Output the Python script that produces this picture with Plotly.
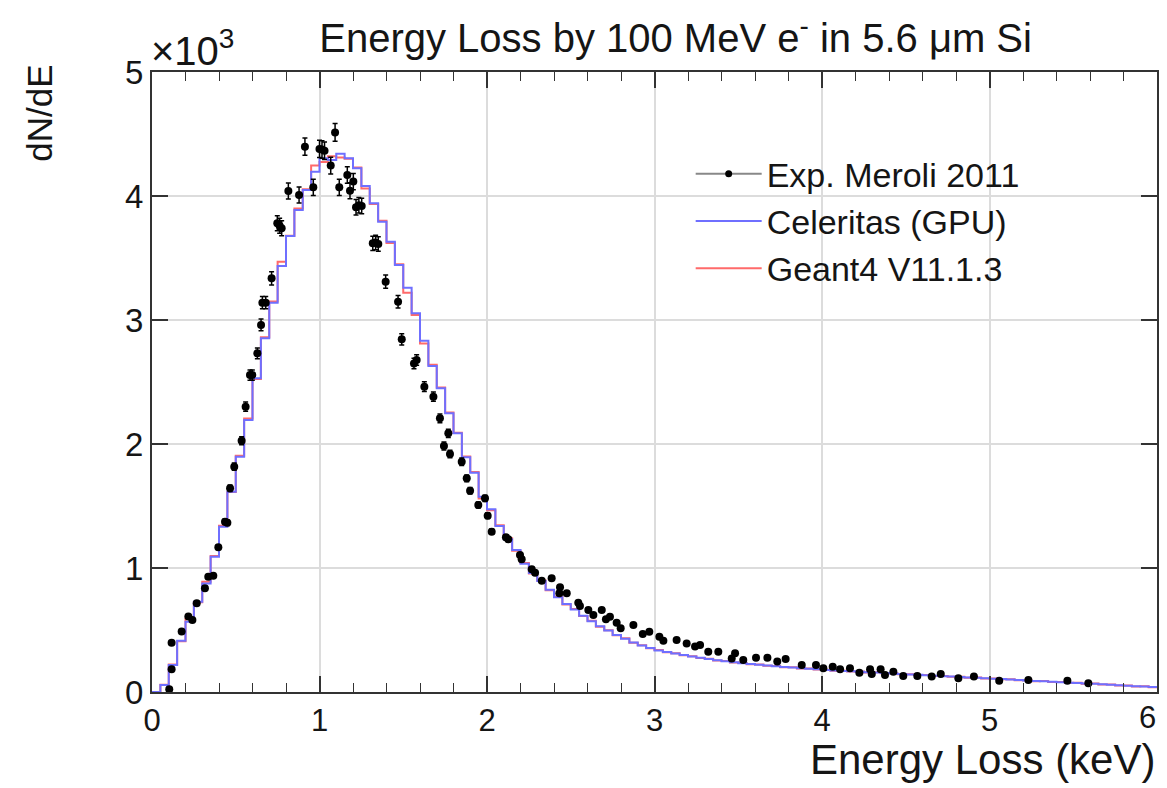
import plotly.graph_objects as go

# ---------------- data ----------------
bin_width = 0.05
bin_lo = [round(i * bin_width, 2) for i in range(120)]

celeritas = [
    0, 56, 218, 414, 567, 728, 876, 1091, 1333, 1615,
    1898, 2194, 2530, 2852, 3140, 3435, 3677, 3887, 4048, 4196,
    4304, 4290, 4340, 4304, 4223, 4081, 3941, 3793, 3632, 3444,
    3260, 3054, 2833, 2629, 2449, 2247, 2086, 1893, 1769, 1575,
    1473, 1339, 1231, 1145, 1035, 960, 895, 825, 765, 710,
    665, 615, 570, 530, 495, 460, 430, 400, 375, 355,
    335, 322, 310, 298, 287, 276, 266, 257, 248, 240,
    232, 225, 219, 213, 207, 202, 197, 192, 187, 183,
    178, 174, 170, 167, 164, 160, 157, 154, 150, 146,
    142, 139, 135, 131, 128, 124, 121, 117, 114, 111,
    107, 104, 100, 96, 93, 89, 86, 82, 78, 75,
    72, 69, 66, 62, 58, 54, 50, 47, 44, 40,
]

geant4 = [
    0, 58, 222, 410, 590, 724, 890, 1096, 1340, 1612,
    1905, 2205, 2525, 2860, 3150, 3470, 3680, 3900, 4055, 4245,
    4275, 4320, 4310, 4300, 4230, 4060, 3935, 3800, 3620, 3450,
    3220, 3040, 2810, 2640, 2455, 2255, 2090, 1900, 1775, 1560,
    1465, 1345, 1240, 1140, 1040, 955, 900, 820, 770, 705,
    670, 612, 575, 527, 498, 458, 433, 398, 378, 352,
    338, 320, 312, 296, 289, 274, 268, 255, 250, 238,
    234, 223, 221, 211, 209, 200, 199, 190, 189, 181,
    180, 172, 172, 165, 166, 158, 159, 152, 152, 144,
    144, 137, 137, 129, 130, 122, 123, 115, 116, 109,
    109, 102, 102, 94, 95, 87, 88, 80, 80, 73,
    74, 67, 68, 60, 60, 52, 52, 45, 46, 38,
]

exp_x = [
    0.103, 0.117, 0.117, 0.177, 0.217, 0.241, 0.267, 0.316, 0.336, 0.366,
    0.396, 0.436, 0.450, 0.466, 0.491, 0.535, 0.559, 0.585, 0.599, 0.629,
    0.651, 0.659, 0.679, 0.714, 0.748, 0.762, 0.774, 0.814, 0.878, 0.913,
    0.963, 1.000, 1.015, 1.030, 1.067, 1.093, 1.118, 1.166, 1.182, 1.202,
    1.218, 1.235, 1.252, 1.318, 1.335, 1.351, 1.395, 1.469, 1.491, 1.564,
    1.580, 1.626, 1.680, 1.719, 1.743, 1.769, 1.779, 1.849, 1.879, 1.899,
    1.948, 1.988, 2.004, 2.028, 2.113, 2.127, 2.197, 2.207, 2.267, 2.287,
    2.327, 2.386, 2.432, 2.436, 2.476, 2.545, 2.555, 2.605, 2.635, 2.685,
    2.710, 2.734, 2.774, 2.798, 2.874, 2.930, 2.969, 3.029, 3.053, 3.132,
    3.192, 3.242, 3.272, 3.321, 3.381, 3.461, 3.481, 3.530, 3.606, 3.674,
    3.733, 3.783, 3.879, 3.964, 4.008, 4.064, 4.108, 4.167, 4.223, 4.287,
    4.297, 4.350, 4.376, 4.426, 4.485, 4.569, 4.655, 4.709, 4.814, 4.907,
    5.058, 5.232, 5.465, 5.590,
]
exp_y = [
    22, 183, 398, 487, 608, 581, 715, 836, 930, 938,
    1167, 1373, 1365, 1643, 1817, 2027, 2301, 2556, 2556, 2731,
    2960, 3140, 3140, 3336, 3780, 3760, 3740, 4040, 4008, 4398,
    4070, 4380, 4375, 4365, 4245, 4513, 4070, 4169, 4043, 4116,
    3909, 3925, 3919, 3618, 3625, 3613, 3309, 3148, 2844, 2650,
    2677, 2462, 2382, 2207, 1984, 2086, 1919, 1857, 1723, 1623,
    1508, 1562, 1422, 1293, 1248, 1231, 1105, 1070, 989, 962,
    898, 917, 796, 844, 796, 720, 694, 661, 621, 661,
    586, 607, 559, 514, 540, 468, 486, 446, 414, 419,
    392, 366, 379, 325, 325, 271, 312, 258, 277, 277,
    245, 266, 218, 218, 191, 204, 183, 191, 156, 183,
    145, 183, 137, 164, 129, 129, 124, 145, 110, 124,
    91, 97, 91, 70,
]

y_tick_vals = [0, 1000, 2000, 3000, 4000, 5000]
y_tick_text = ["0", "1", "2", "3", "4", "5"]
x_tick_vals = [0, 1, 2, 3, 4, 5, 6]
x_tick_text = ["0", "1", "2", "3", "4", "5", ""]
x_last_label = "6"

# step-histogram vertices (left edges + final right edge)
step_x = bin_lo + [6.0]
cel_y = celeritas + [celeritas[-1]]
g4_y = geant4 + [geant4[-1]]

FONT = "Liberation Sans, Arial, Helvetica, sans-serif"
TXT = "#151515"
BLUE = "#6f6fff"
RED = "#ff6a6a"

fig = go.Figure()

fig.add_trace(go.Scatter(
    x=step_x, y=g4_y, mode="lines", line=dict(color=RED, width=2, shape="hv"),
    name="Geant4 V11.1.3", legendrank=3,
))
fig.add_trace(go.Scatter(
    x=step_x, y=cel_y, mode="lines", line=dict(color=BLUE, width=2, shape="hv"),
    name="Celeritas (GPU)", legendrank=2,
))
fig.add_trace(go.Scatter(
    x=exp_x, y=exp_y, mode="markers",
    marker=dict(color="black", size=8),
    error_y=dict(type="percent", value=1.6, thickness=1.5, width=2.5, color="black"),
    showlegend=False,
))
# legend entry for the experimental data (ROOT "lp" style)
fig.add_trace(go.Scatter(
    x=[None], y=[None], mode="lines+markers",
    line=dict(color="#888888", width=2),
    marker=dict(color="black", size=7),
    name="Exp. Meroli 2011", legendrank=1,
))

fig.update_layout(
    width=1159, height=780,
    margin=dict(l=144, r=10, t=64, b=96, autoexpand=False),
    paper_bgcolor="white", plot_bgcolor="white",
    font=dict(family=FONT, color=TXT),
    showlegend=True,
    legend=dict(
        x=0.536, y=0.882, xanchor="left", yanchor="top",
        bgcolor="rgba(0,0,0,0)", borderwidth=0,
        font=dict(size=34, family=FONT, color=TXT),
        itemwidth=66, tracegroupgap=0,
    ),
    title=dict(
        text="Energy Loss by 100 MeV e<sup>-</sup> in 5.6 μm Si",
        x=0.576, xanchor="center", y=0.962, yanchor="middle",
        font=dict(size=40, family=FONT, color=TXT),
    ),
)

fig.update_xaxes(
    range=[0, 6], tickvals=x_tick_vals, ticktext=x_tick_text, automargin=False,
    showline=True, linecolor="#333333", linewidth=2, mirror="allticks",
    ticks="inside", ticklen=16, tickwidth=1.5, tickcolor="#333333",
    minor=dict(dtick=0.2, ticks="inside", ticklen=9, tickwidth=1.2, tickcolor="#333333", showgrid=False),
    showgrid=True, gridcolor="#dcdcdc", gridwidth=1.5,
    zeroline=False,
    tickfont=dict(size=31, family=FONT, color=TXT),
)
fig.update_yaxes(
    range=[0, 5000], tickvals=y_tick_vals, ticktext=y_tick_text, automargin=False,
    showline=True, linecolor="#333333", linewidth=2, mirror="allticks",
    ticks="inside", ticklen=16, tickwidth=1.5, tickcolor="#333333",
    showgrid=True, gridcolor="#dcdcdc", gridwidth=1.5,
    zeroline=False,
    tickfont=dict(size=33, family=FONT, color=TXT),
)

# last x tick label, kept inside the page edge
fig.add_annotation(
    text=x_last_label, xref="paper", yref="paper",
    x=1.0, y=0.0, xanchor="right", yanchor="top", xshift=1, yshift=-6, showarrow=False,
    font=dict(size=31, family=FONT, color=TXT),
)
fig.add_annotation(
    text="Energy Loss (keV)", xref="paper", yref="paper",
    x=1.0, y=-0.067, xanchor="right", yanchor="top", showarrow=False,
    font=dict(size=42, family=FONT, color=TXT),
)
fig.add_annotation(
    text="dN/dE", xref="paper", yref="paper",
    x=-0.112, y=1.015, xanchor="center", yanchor="top", textangle=-90, showarrow=False,
    font=dict(size=35, family=FONT, color=TXT),
)
fig.add_annotation(
    text="×10<sup>3</sup>", xref="paper", yref="paper",
    x=-0.003, y=0.995, xanchor="left", yanchor="bottom", showarrow=False,
    font=dict(size=40, family=FONT, color=TXT),
)

fig.write_html("out.html")
